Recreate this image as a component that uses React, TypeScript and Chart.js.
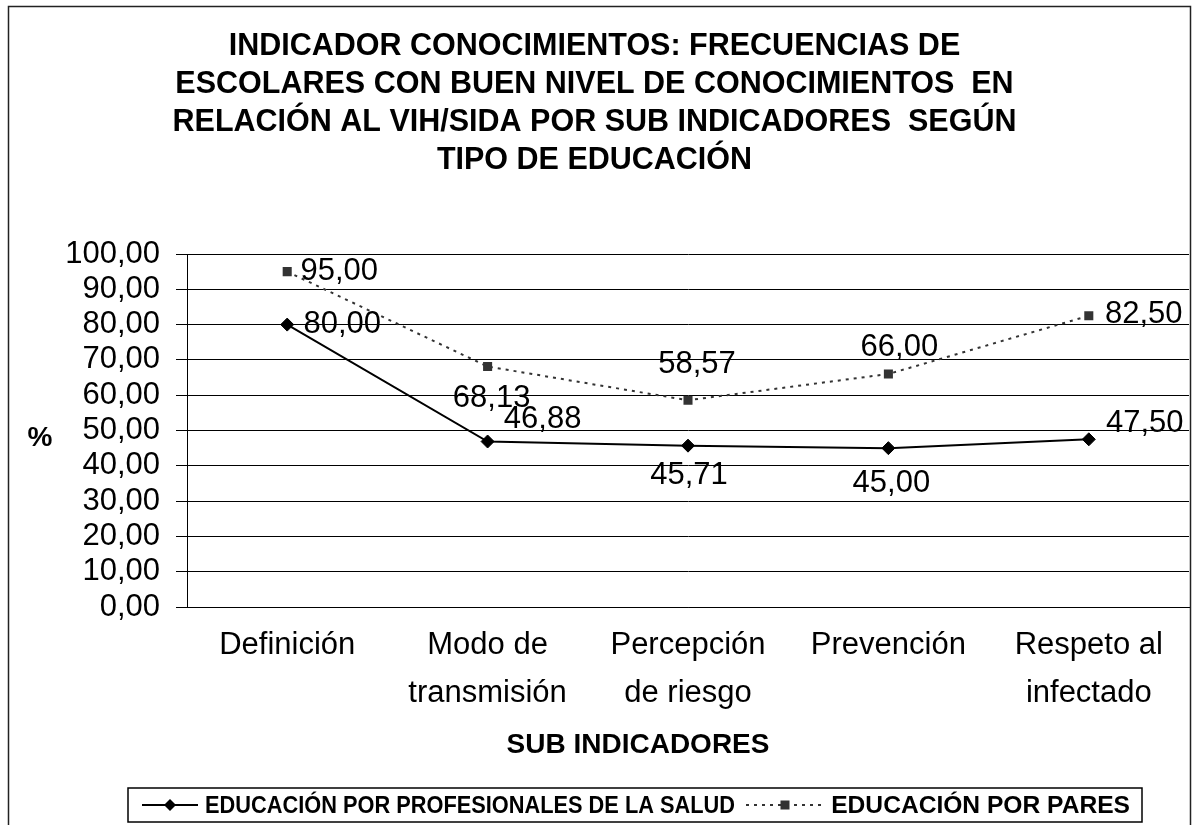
import React, { useEffect, useRef } from 'react';
import { Chart, registerables } from 'chart.js';

Chart.register(...registerables);

const FONT = "'Liberation Sans', Arial, Helvetica, sans-serif";

const titleLines = [
  'INDICADOR CONOCIMIENTOS: FRECUENCIAS DE',
  'ESCOLARES CON BUEN NIVEL DE CONOCIMIENTOS  EN',
  'RELACIÓN AL VIH/SIDA POR SUB INDICADORES  SEGÚN',
  'TIPO DE EDUCACIÓN',
];
const categories = [
  ['Definición'],
  ['Modo de', 'transmisión'],
  ['Percepción', 'de riesgo'],
  ['Prevención'],
  ['Respeto al', 'infectado'],
];
const seriesNames = ['EDUCACIÓN POR PROFESIONALES DE LA SALUD', 'EDUCACIÓN POR PARES'];
const profesionales = [80.0, 46.88, 45.71, 45.0, 47.5];
const pares = [95.0, 68.13, 58.57, 66.0, 82.5];
const yTickValues = [0, 10, 20, 30, 40, 50, 60, 70, 80, 90, 100];
const xTitle = 'SUB INDICADORES';
const yTitle = '%';

// label placement (pixel offsets from each point, style only)
const labelOffsets = [
  [[55, 0], [55, -22], [1, 30], [3, 35], [56, -16]],
  [[52, 0], [4, 32], [9, -36], [11, -27], [55, -1]],
];

const fmt = (v: number) => v.toFixed(2).replace('.', ',');

const decorPlugin = {
  id: 'decor',
  beforeDraw(chart: any) {
    const ctx = chart.ctx;
    ctx.save();
    ctx.fillStyle = '#fff';
    ctx.fillRect(0, 0, chart.width, chart.height);
    ctx.restore();
  },
  afterDraw(chart: any) {
    const ctx = chart.ctx;
    ctx.save();
    // outer frame
    ctx.strokeStyle = '#222';
    ctx.lineWidth = 1.5;
    ctx.strokeRect(8.5, 6.5, 1182, 840);

    // data labels
    ctx.fillStyle = '#000';
    ctx.font = `31px ${FONT}`;
    ctx.textAlign = 'center';
    ctx.textBaseline = 'middle';
    chart.data.datasets.forEach((ds: any, di: number) => {
      const meta = chart.getDatasetMeta(di);
      meta.data.forEach((pt: any, i: number) => {
        const off = labelOffsets[di][i];
        ctx.fillText(fmt(ds.data[i]), pt.x + off[0], pt.y + off[1]);
      });
    });

    // y title
    ctx.font = `bold 28px ${FONT}`;
    ctx.fillText(yTitle, 40, 438);

    // x title
    ctx.fillText(xTitle, 638, 745);

    // legend
    const left = 128;
    const right = 1142;
    const top = 788, bottom = 822, cy = 805;
    ctx.strokeStyle = '#000';
    ctx.lineWidth = 1.5;
    ctx.strokeRect(left, top, right - left, bottom - top);

    // symbol 1: solid line with diamond
    let x = 142;
    const sym1 = 56;
    ctx.strokeStyle = '#000';
    ctx.lineWidth = 2;
    ctx.beginPath();
    ctx.moveTo(x, cy);
    ctx.lineTo(x + sym1, cy);
    ctx.stroke();
    const dx = x + sym1 / 2;
    ctx.fillStyle = '#000';
    ctx.beginPath();
    ctx.moveTo(dx, cy - 6);
    ctx.lineTo(dx + 6, cy);
    ctx.lineTo(dx, cy + 6);
    ctx.lineTo(dx - 6, cy);
    ctx.closePath();
    ctx.fill();
    ctx.font = `bold 24px ${FONT}`;
    ctx.textAlign = 'left';
    ctx.fillText(seriesNames[0], 205, cy + 1, 530);
    // symbol 2: dotted line with square
    x = 746;
    const sym2 = 78;
    ctx.strokeStyle = '#333';
    ctx.setLineDash([3, 5]);
    ctx.beginPath();
    ctx.moveTo(x, cy);
    ctx.lineTo(x + sym2, cy);
    ctx.stroke();
    ctx.setLineDash([]);
    ctx.fillStyle = '#333';
    ctx.fillRect(x + sym2 / 2 - 4.5, cy - 4.5, 9, 9);
    ctx.fillStyle = '#000';
    ctx.font = `bold 24.6px ${FONT}`;
    ctx.textAlign = 'right';
    ctx.fillText(seriesNames[1], 1130, cy + 1, 300);
    ctx.restore();
  },
};

export default function App() {
  const ref = useRef<HTMLCanvasElement>(null);
  useEffect(() => {
    if (!ref.current) return;
    const chart = new Chart(ref.current, {
      type: 'line',
      data: {
        labels: categories as any,
        datasets: [
          {
            label: seriesNames[0],
            data: profesionales,
            borderColor: '#000',
            backgroundColor: '#000',
            borderWidth: 2,
            pointStyle: 'rectRot',
            pointRadius: 6.5,
            pointBorderWidth: 1,
            pointBackgroundColor: '#000',
            pointBorderColor: '#000',
            tension: 0,
          },
          {
            label: seriesNames[1],
            data: pares,
            borderColor: '#333',
            backgroundColor: '#333',
            borderWidth: 2,
            borderDash: [3, 5],
            pointStyle: 'rect',
            pointRadius: 6.4,
            pointBorderWidth: 0,
            pointBackgroundColor: '#333',
            pointBorderColor: '#333',
            tension: 0,
          },
        ],
      },
      options: {
        responsive: false,
        animation: false,
        devicePixelRatio: 1,
        layout: { padding: { left: 0, right: 11, top: 0, bottom: 0 } },
        plugins: {
          legend: { display: false },
          tooltip: { enabled: false },
          title: {
            display: true,
            text: titleLines,
            color: '#000',
            font: { family: FONT, size: 30.5, weight: 'bold', lineHeight: 38 / 30.5 },
            padding: { top: 28, bottom: 74 },
          },
        },
        scales: {
          x: {
            offset: true,
            grid: { display: false, drawTicks: false, offset: true },
            border: { display: true, color: '#000', width: 1 },
            ticks: {
              color: '#000',
              font: { family: FONT, size: 31, lineHeight: 48 / 31 },
              padding: 14,
              maxRotation: 0,
              autoSkip: false,
            },
            afterFit: (s: any) => {
              s.height = 218;
            },
          },
          y: {
            min: yTickValues[0],
            max: yTickValues[yTickValues.length - 1],
            afterBuildTicks: (s: any) => {
              s.ticks = yTickValues.map((v) => ({ value: v }));
            },
            ticks: {
              autoSkip: false,
              color: '#000',
              font: { family: FONT, size: 31 },
              padding: 16,
              callback: (v: any) => fmt(Number(v)),
            },
            grid: { color: '#000', lineWidth: 1, tickLength: 11, tickColor: '#000' },
            border: { display: true, color: '#000', width: 1 },
            afterFit: (s: any) => {
              s.width = 187;
            },
          },
        },
      },
      plugins: [decorPlugin],
    });
    return () => chart.destroy();
  }, []);
  return (
    <div style={{ position: 'absolute', left: 0, top: 0, width: 1200, height: 825 }}>
      <canvas ref={ref} width={1200} height={825} style={{ width: 1200, height: 825, display: 'block' }} />
    </div>
  );
}
